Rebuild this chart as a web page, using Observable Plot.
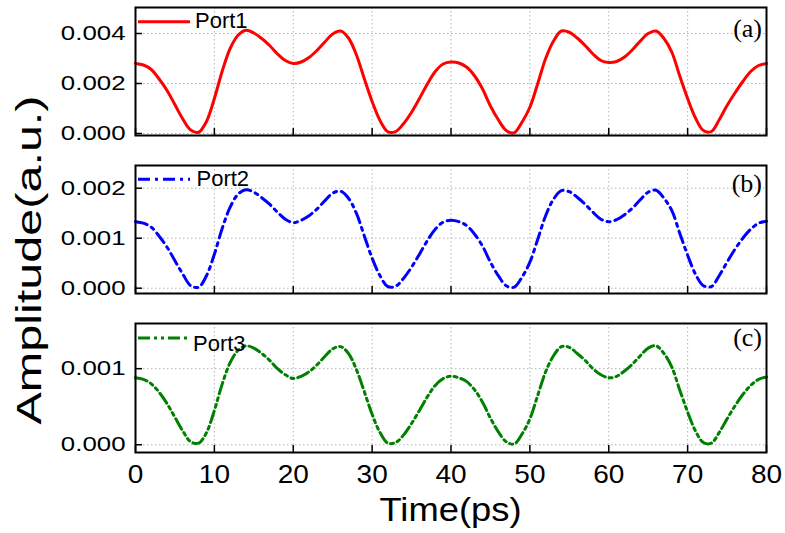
<!DOCTYPE html>
<html><head><meta charset="utf-8">
<script src="https://cdn.jsdelivr.net/npm/d3@7"></script>
<script src="https://cdn.jsdelivr.net/npm/@observablehq/plot@0.6"></script>
<style>
body{margin:0;background:#fff;}
#chart{position:relative;width:785px;height:533px;background:#fff;font-family:Arial,"Liberation Sans",sans-serif;overflow:hidden;color:#000}
#chart svg{position:absolute;left:0;overflow:visible}
</style></head><body><div id="chart"></div>
<script>
// ---- data (time in ps, amplitude in a.u.) ----
const time = [0,1,2,3,4,5,6,7,8,9,10,11,12,13,14,15,16,17,18,19,20,21,22,23,24,25,26,27,28,29,30,31,32,33,34,35,36,37,38,39,40,41,42,43,44,45,46,47,48,49,50,51,52,53,54,55,56,57,58,59,60,61,62,63,64,65,66,67,68,69,70,71,72,73,74,75,76,77,78,79,80];
const port1 = [
0.00280,0.00274,0.00256,0.00218,0.00172,0.00115,0.00058,0.00014,0.00005,0.00048,
0.00140,0.00250,0.00340,0.00393,0.00413,0.00402,0.00380,0.00352,0.00318,0.00292,
0.00280,0.00286,0.00304,0.00332,0.00366,0.00398,0.00410,0.00382,0.00315,0.00220,
0.00128,0.00052,0.00007,0.00008,0.00040,0.00085,0.00140,0.00198,0.00248,0.00278,
0.00286,0.00282,0.00265,0.00230,0.00178,0.00110,0.00055,0.00012,0.00003,0.00045,
0.00105,0.00200,0.00300,0.00370,0.00410,0.00405,0.00382,0.00352,0.00318,0.00292,
0.00284,0.00288,0.00306,0.00335,0.00370,0.00400,0.00410,0.00380,0.00325,0.00230,
0.00140,0.00062,0.00012,0.00008,0.00055,0.00112,0.00162,0.00208,0.00248,0.00272,
0.00280];
const port2 = [
0.00133,0.00130,0.00122,0.00104,0.00082,0.00055,0.00028,0.00005,0.00002,0.00025,
0.00068,0.00120,0.00162,0.00188,0.00197,0.00192,0.00181,0.00168,0.00152,0.00138,
0.00131,0.00136,0.00145,0.00158,0.00175,0.00190,0.00194,0.00180,0.00150,0.00105,
0.00060,0.00025,0.00003,0.00004,0.00020,0.00042,0.00068,0.00095,0.00118,0.00132,
0.00136,0.00133,0.00125,0.00108,0.00084,0.00052,0.00025,0.00005,0.00002,0.00022,
0.00052,0.00098,0.00145,0.00178,0.00195,0.00193,0.00182,0.00168,0.00152,0.00138,
0.00133,0.00137,0.00147,0.00160,0.00177,0.00192,0.00196,0.00180,0.00155,0.00110,
0.00066,0.00028,0.00005,0.00003,0.00025,0.00052,0.00078,0.00100,0.00118,0.00130,
0.00134];
const port3 = [
0.00088,0.00086,0.00080,0.00069,0.00054,0.00036,0.00018,0.00004,0.00002,0.00016,
0.00045,0.00080,0.00108,0.00124,0.00130,0.00127,0.00120,0.00111,0.00100,0.00092,
0.00087,0.00090,0.00096,0.00105,0.00116,0.00126,0.00129,0.00120,0.00099,0.00070,
0.00040,0.00016,0.00002,0.00003,0.00013,0.00028,0.00045,0.00063,0.00078,0.00087,
0.00090,0.00088,0.00083,0.00072,0.00056,0.00035,0.00017,0.00004,0.00001,0.00014,
0.00034,0.00065,0.00096,0.00117,0.00129,0.00128,0.00120,0.00111,0.00100,0.00092,
0.00088,0.00090,0.00097,0.00106,0.00117,0.00127,0.00130,0.00120,0.00102,0.00072,
0.00043,0.00018,0.00003,0.00002,0.00016,0.00034,0.00051,0.00066,0.00078,0.00086,
0.00089];
const xTicks = [0,10,20,30,40,50,60,70,80];
const yTicksA = [0,0.002,0.004];
const yTicksB = [0,0.001,0.002];
const yTicksC = [0,0.001];
const seriesNames = ["Port1","Port2","Port3"];
const panelLabels = ["(a)","(b)","(c)"];
const xTitle = "Time(ps)";
const yTitle = "Amplitude(a.u.)";

// ---- layout ----
const W = 785, ML = 135, MR = 19;
const frameW = W - ML - MR;
const panels = [
  {values: port1, ticks: yTicksA, domain: [-0.00008, 0.00504], color: "#ff0000", dash: null, top: 0, mt: 7, frameH: 128, mb: 5, showX: false},
  {values: port2, ticks: yTicksB, domain: [-0.000106, 0.002454], color: "#0000ff", dash: "12,5,3,5", top: 158, mt: 7, frameH: 128, mb: 5, showX: false},
  {values: port3, ticks: yTicksC, domain: [-0.000102, 0.001594], color: "#008000", dash: "12,4,3,4,3,4", top: 316, mt: 7, frameH: 129, mb: 45, showX: true}
];

const root = document.getElementById("chart");

function stretch(svg, selector, factor) {
  svg.querySelectorAll(selector).forEach(t => {
    const w = t.getComputedTextLength();
    if (w > 0) { t.setAttribute("textLength", w * factor); t.setAttribute("lengthAdjust", "spacingAndGlyphs"); }
  });
}

panels.forEach((p, i) => {
  const data = time.map((t, j) => ({t, v: p.values[j]}));
  const marks = [
    Plot.ruleX(xTicks, {stroke: "#b4b4b4", strokeWidth: 1, strokeDasharray: "1.5,2.5"}),
    Plot.ruleY(p.ticks, {stroke: "#b4b4b4", strokeWidth: 1, strokeDasharray: "1.5,2.5"}),
    Plot.line(data, {x: "t", y: "v", stroke: p.color, strokeWidth: 3, strokeDasharray: p.dash, curve: "catmull-rom"}),
    Plot.tickX(xTicks, {x: d => d, stroke: "#000", strokeWidth: 1.5, insetTop: p.frameH - 7}),
    Plot.tickY(p.ticks, {y: d => d, stroke: "#000", strokeWidth: 1.5, insetRight: frameW - 7}),
    Plot.axisY(p.ticks, {anchor: "left", tickSize: 0, tickPadding: 10, tickFormat: d3.format(".3f"), fontSize: 20.5, label: null}),
    Plot.frame({stroke: "#000", strokeWidth: 2})
  ];
  if (p.showX) marks.push(Plot.axisX(xTicks, {anchor: "bottom", tickSize: 0, tickPadding: 13, fontSize: 25, label: null}));
  const chart = Plot.plot({
    width: W,
    height: p.mt + p.frameH + p.mb,
    marginLeft: ML, marginRight: MR, marginTop: p.mt, marginBottom: p.mb,
    x: {domain: [0, 80], axis: null},
    y: {domain: p.domain, axis: null},
    style: {background: "transparent", color: "#000", fontFamily: "Arial, 'Liberation Sans', sans-serif"},
    marks
  });
  chart.style.top = p.top + "px";
  root.appendChild(chart);
  stretch(chart, 'g[aria-label="y-axis tick label"] text', 1.26);
  stretch(chart, 'g[aria-label="x-axis tick label"] text', 1.12);
});

// ---- annotations: legends, panel labels, axis titles ----
const NS = "http://www.w3.org/2000/svg";
const ov = document.createElementNS(NS, "svg");
ov.setAttribute("width", W); ov.setAttribute("height", 533);
ov.style.top = "0px";
root.appendChild(ov);
function el(tag, attrs, text) {
  const e = document.createElementNS(NS, tag);
  for (const k in attrs) e.setAttribute(k, attrs[k]);
  if (text != null) e.textContent = text;
  ov.appendChild(e);
  return e;
}
const legendPos = [{ly: 21.7, ty: 28.3, tx: 195}, {ly: 179.3, ty: 186, tx: 196.5}, {ly: 338, ty: 351, tx: 193}];
const labelPos = [36.5, 192, 346];
panels.forEach((p, i) => {
  const lp = legendPos[i];
  const ln = el("line", {x1: 138, x2: 190, y1: lp.ly, y2: lp.ly, stroke: p.color, "stroke-width": 3});
  if (p.dash) ln.setAttribute("stroke-dasharray", p.dash);
  el("text", {x: lp.tx, y: lp.ty, "font-size": 22, "font-family": "Arial, 'Liberation Sans', sans-serif"}, seriesNames[i]);
  el("text", {x: 762, y: labelPos[i], "font-size": 26, "text-anchor": "end", "font-family": "'Times New Roman', 'Liberation Serif', serif"}, panelLabels[i]);
});
el("text", {x: 450.5, y: 521, "font-size": 33, "text-anchor": "middle", textLength: 142, lengthAdjust: "spacingAndGlyphs", "font-family": "Arial, 'Liberation Sans', sans-serif"}, xTitle);
el("text", {transform: "translate(41,260) rotate(-90)", "font-size": 35, "text-anchor": "middle", textLength: 329, lengthAdjust: "spacingAndGlyphs", "font-family": "Arial, 'Liberation Sans', sans-serif"}, yTitle);
</script></body></html>
